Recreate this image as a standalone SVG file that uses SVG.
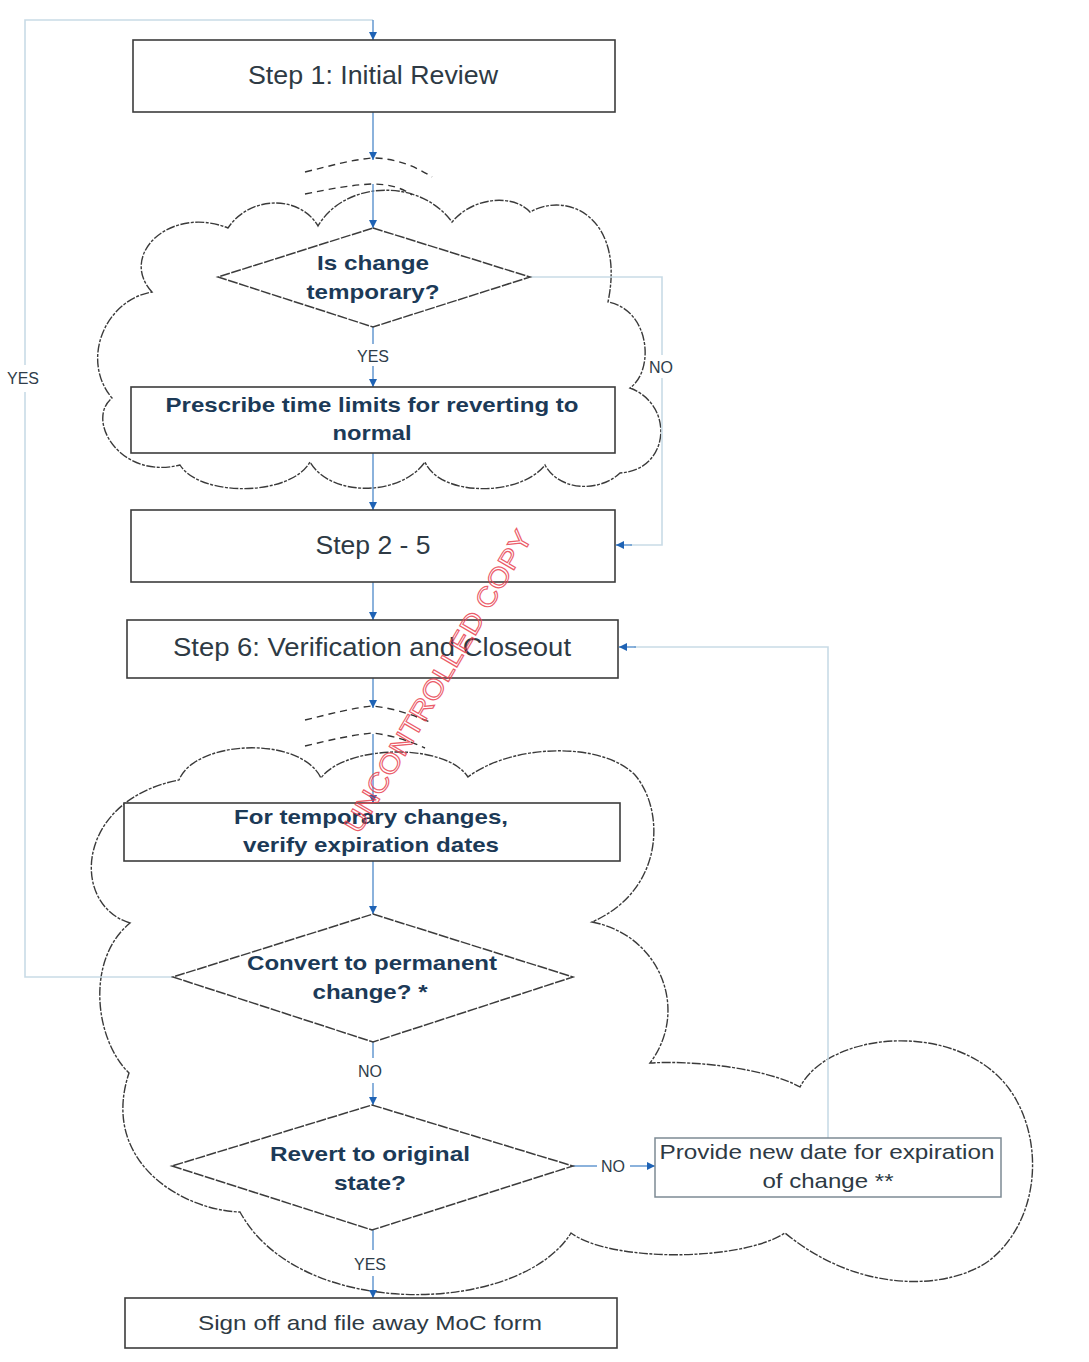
<svg xmlns="http://www.w3.org/2000/svg" width="1089" height="1362" viewBox="0 0 1089 1362">
<style>
.bg{fill:#ffffff}
.cloud{fill:none;stroke:#3a3a3a;stroke-width:1.4;stroke-dasharray:9 1.5 3 1.5}
.brk{fill:none;stroke:#333;stroke-width:1.4;stroke-dasharray:7 5}
.box{fill:#ffffff;stroke:#3c3c3c;stroke-width:1.6}
.lbox{fill:#ffffff;stroke:#7d8a94;stroke-width:1.5}
.dia{fill:#ffffff;stroke:#3c3c3c;stroke-width:1.5;stroke-dasharray:10 1.5}
.con{fill:none;stroke:#4d89c9;stroke-width:1.3}
.fb{fill:none;stroke:#c9dbe6;stroke-width:1.6}
.t{font-family:"Liberation Sans",Arial,sans-serif;text-anchor:middle;fill:#2e3a44}
.b{font-family:"Liberation Sans",Arial,sans-serif;text-anchor:middle;font-weight:bold;fill:#1c3a57}
.lab{font-family:"Liberation Sans",Arial,sans-serif;text-anchor:middle;fill:#2f3d4a;font-size:16px}
.wm{font-family:"Liberation Sans",Arial,sans-serif;font-size:27px;fill:none;stroke:#e8414f;stroke-width:1.1}
</style>
<defs>
<marker id="ah" viewBox="0 0 10 10" refX="10" refY="5" markerWidth="8" markerHeight="9" markerUnits="userSpaceOnUse" orient="auto">
<path d="M0,0 L10,5 L0,10 Z" fill="#1f63b5"/>
</marker>
</defs>
<rect class="bg" x="0" y="0" width="1089" height="1362"/>

<g id="clouds">
<path id="cloud1" class="cloud" d="M 152,292 C 118,255 170,205 228,228 C 250,195 300,195 318,226 C 345,180 420,178 452,222 C 475,195 515,195 530,212 C 570,190 625,220 608,302 C 650,310 655,370 630,388 C 675,405 670,470 620,473 C 600,492 560,492 545,465 C 520,497 440,497 425,462 C 400,497 330,497 310,462 C 290,497 200,497 180,465 C 120,480 85,420 112,398 C 80,360 105,300 152,292 Z"/>
<path id="cloud2" class="cloud" d="M 130,923 C 70,905 75,800 179,780 C 195,740 300,735 321,778 C 345,745 445,742 468,777 C 510,745 600,740 635,775 C 665,810 665,890 592,922 C 660,935 690,1010 650,1063 C 700,1060 770,1070 800,1087 C 830,1030 960,1020 1010,1090 C 1045,1140 1040,1220 990,1260 C 950,1290 860,1295 785,1233 C 740,1262 610,1262 571,1233 C 520,1315 300,1322 240,1212 C 180,1210 100,1160 129,1073 C 95,1040 85,960 130,923 Z"/>
<path class="brk" d="M 305,172 C 330,166 350,160 372,158 C 395,158 415,166 432,177"/>
<path class="brk" d="M 305,194 C 330,189 350,185 372,184 C 390,184 402,188 412,195"/>
<path class="brk" d="M 305,720 C 330,714 352,708 372,706 C 395,708 415,716 430,722"/>
<path class="brk" d="M 305,746 C 330,740 352,735 372,733 C 392,735 412,742 425,748"/>
</g>

<g id="connectors">
<polyline class="fb" points="25,365 25,20 373,20"/>
<polyline class="fb" points="25,392 25,977 173,977"/>
<line class="con" x1="373" y1="20" x2="373" y2="40" marker-end="url(#ah)"/>
<line class="con" x1="373" y1="112" x2="373" y2="160" marker-end="url(#ah)"/>
<line class="con" x1="373" y1="184" x2="373" y2="228" marker-end="url(#ah)"/>
<line class="con" x1="373" y1="327" x2="373" y2="344"/>
<line class="con" x1="373" y1="366" x2="373" y2="387" marker-end="url(#ah)"/>
<polyline class="fb" points="530,277 662,277 662,355"/>
<polyline class="fb" points="662,378 662,545 630,545"/>
<line class="con" x1="632" y1="545" x2="616" y2="545" marker-end="url(#ah)"/>
<line class="con" x1="373" y1="453" x2="373" y2="510" marker-end="url(#ah)"/>
<line class="con" x1="373" y1="582" x2="373" y2="620" marker-end="url(#ah)"/>
<line class="con" x1="373" y1="678" x2="373" y2="708" marker-end="url(#ah)"/>
<line class="con" x1="373" y1="734" x2="373" y2="803" marker-end="url(#ah)"/>
<line class="con" x1="373" y1="861" x2="373" y2="914" marker-end="url(#ah)"/>
<line class="con" x1="373" y1="1042" x2="373" y2="1058"/>
<line class="con" x1="373" y1="1083" x2="373" y2="1105" marker-end="url(#ah)"/>
<line class="con" x1="573" y1="1166" x2="597" y2="1166"/>
<line class="con" x1="630" y1="1166" x2="655" y2="1166" marker-end="url(#ah)"/>
<line class="con" x1="373" y1="1230" x2="373" y2="1250"/>
<line class="con" x1="373" y1="1276" x2="373" y2="1298" marker-end="url(#ah)"/>
<polyline class="fb" points="828,1138 828,647 634,647"/>
<line class="con" x1="636" y1="647" x2="619" y2="647" marker-end="url(#ah)"/>
</g>

<g id="labels">
<text class="lab" x="23" y="384">YES</text>
<text class="lab" x="373" y="362">YES</text>
<text class="lab" x="661" y="373">NO</text>
<text class="lab" x="370" y="1077">NO</text>
<text class="lab" x="613" y="1172">NO</text>
<text class="lab" x="370" y="1270">YES</text>
</g>

<g id="step1">
<rect class="box" x="133" y="40" width="482" height="72"/>
<text class="t" x="373" y="84" font-size="26" textLength="250" lengthAdjust="spacingAndGlyphs">Step 1: Initial Review</text>
</g>

<g id="q-temporary">
<polygon class="dia" points="373,228 530,277 373,327 218,277"/>
<text class="b" x="373" y="270" font-size="21" textLength="112" lengthAdjust="spacingAndGlyphs">Is change</text>
<text class="b" x="373" y="299" font-size="21" textLength="133" lengthAdjust="spacingAndGlyphs">temporary?</text>
</g>

<g id="prescribe">
<rect class="box" x="131" y="387" width="484" height="66"/>
<text class="b" x="372" y="412" font-size="21" textLength="413" lengthAdjust="spacingAndGlyphs">Prescribe time limits for reverting to</text>
<text class="b" x="372" y="440" font-size="21" textLength="79" lengthAdjust="spacingAndGlyphs">normal</text>
</g>

<g id="step2-5">
<rect class="box" x="131" y="510" width="484" height="72"/>
<text class="t" x="373" y="554" font-size="25" textLength="115" lengthAdjust="spacingAndGlyphs">Step 2 - 5</text>
</g>

<g id="step6">
<rect class="box" x="127" y="620" width="491" height="58"/>
<text class="t" x="372" y="656" font-size="25" textLength="398" lengthAdjust="spacingAndGlyphs">Step 6:  Verification and Closeout</text>
</g>

<g id="verify">
<rect class="box" x="124" y="803" width="496" height="58"/>
<text class="b" x="371" y="824" font-size="21" textLength="274" lengthAdjust="spacingAndGlyphs">For temporary changes,</text>
<text class="b" x="371" y="852" font-size="21" textLength="256" lengthAdjust="spacingAndGlyphs">verify expiration dates</text>
</g>

<g id="q-permanent">
<polygon class="dia" points="373,914 573,977 373,1042 173,977"/>
<text class="b" x="372" y="970" font-size="21" textLength="250" lengthAdjust="spacingAndGlyphs">Convert to permanent</text>
<text class="b" x="370" y="999" font-size="21" textLength="115" lengthAdjust="spacingAndGlyphs">change? *</text>
</g>

<g id="q-revert">
<polygon class="dia" points="372,1105 573,1166 372,1230 172,1166"/>
<text class="b" x="370" y="1161" font-size="21" textLength="200" lengthAdjust="spacingAndGlyphs">Revert to original</text>
<text class="b" x="370" y="1190" font-size="21" textLength="72" lengthAdjust="spacingAndGlyphs">state?</text>
</g>

<g id="new-date">
<rect class="lbox" x="655" y="1138" width="346" height="59"/>
<text class="t" x="827" y="1159" font-size="21" textLength="335" lengthAdjust="spacingAndGlyphs">Provide new date for expiration</text>
<text class="t" x="828" y="1188" font-size="21" textLength="131" lengthAdjust="spacingAndGlyphs">of change **</text>
</g>

<g id="signoff">
<rect class="box" x="125" y="1298" width="492" height="50"/>
<text class="t" x="370" y="1330" font-size="21" textLength="344" lengthAdjust="spacingAndGlyphs">Sign off and file away MoC form</text>
</g>

<g id="watermark">
<text class="wm" x="0" y="0" text-anchor="middle" transform="translate(446,686) rotate(-59.7)" textLength="345" lengthAdjust="spacingAndGlyphs" opacity="0.85">UNCONTROLLED COPY</text>
</g>
</svg>
